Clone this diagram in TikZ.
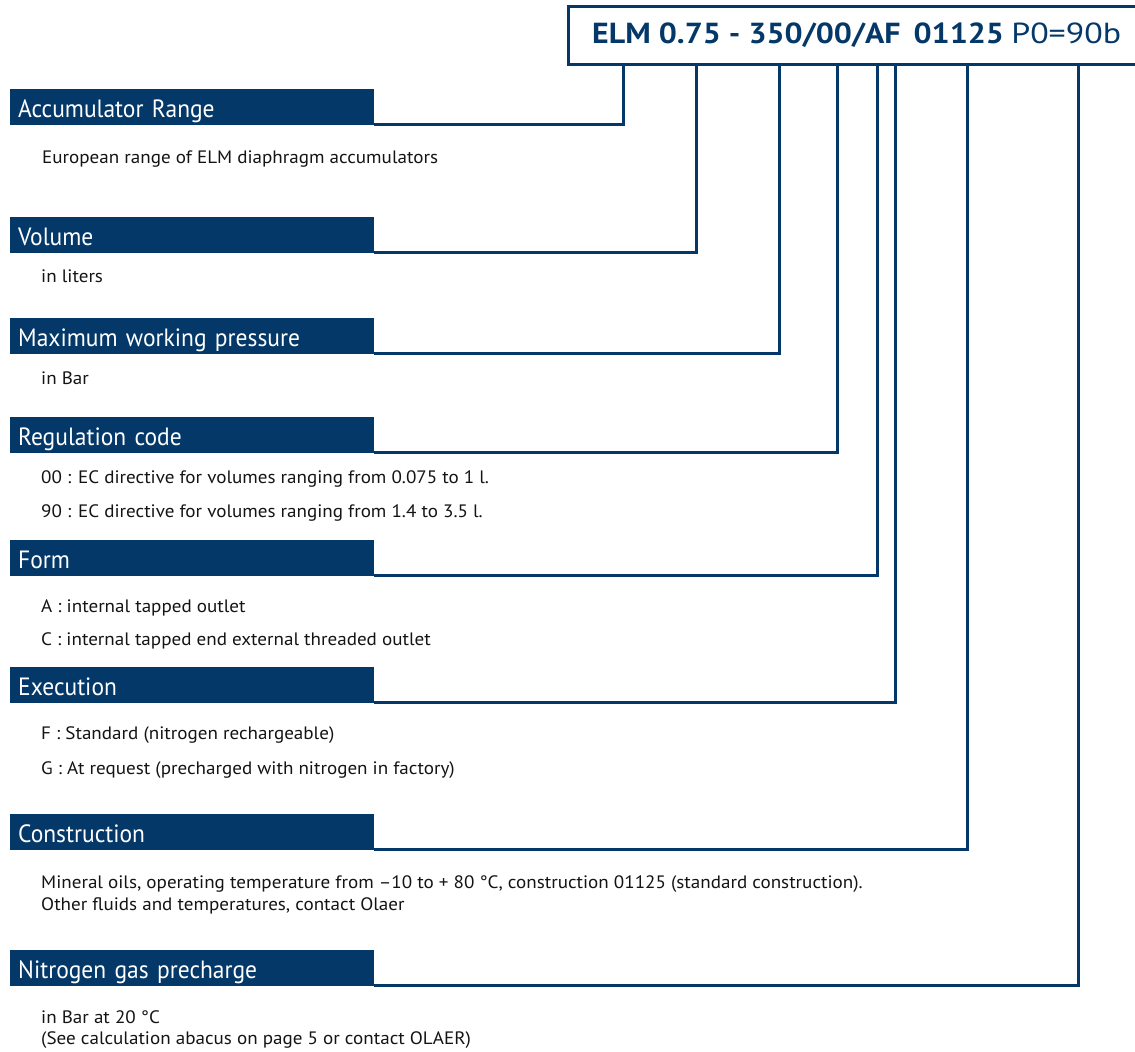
\documentclass[tikz,border=0pt]{standalone}
\usepackage{fontspec}
\setmainfont{PT Sans}
\newfontfamily\bodyf[FakeStretch=1.06]{PT Sans}
\newfontfamily\hdrf[FakeStretch=0.94]{PT Sans}
\newfontfamily\titlef[FakeStretch=1.1]{PT Sans}
\newfontfamily\titlereg[FakeStretch=1.17]{PT Sans}
\usetikzlibrary{calc}
\definecolor{olblue}{RGB}{4,56,104}
\tikzset{
  hdr/.style={fill=olblue, minimum height=36pt, minimum width=364pt, text width=348pt,
    align=left, inner xsep=8pt, inner ysep=0pt, anchor=north west, text=white,
    text height=20pt, text depth=0pt, font=\hdrf\fontsize{25}{25}\selectfont},
  body/.style={anchor=base west, inner sep=0pt, text=black!92, align=left,
    font=\bodyf\fontsize{18}{22}\selectfont},
  conn/.style={draw=olblue, line width=3pt},
}
\begin{document}
\begin{tikzpicture}[x=1pt,y=-1pt]
\useasboundingbox (0,0) rectangle (1135,1052);
% title box
\node[draw=olblue, line width=3pt, minimum width=570pt, minimum height=58pt, anchor=north west, inner sep=0pt] (title) at (567,5) {};
\node[anchor=base west, inner sep=0pt, text=olblue, font=\fontsize{29}{29}\selectfont] (code) at (592,43)
  {\titlef\bfseries ELM 0.75 - 350/00/AF\hspace{0.45em}01125\hspace{0.25em}\titlereg\mdseries P0=90b};
% header bars
\node[hdr] (acc)  at (10,89)  {Accumulator Range};
\node[hdr] (vol)  at (10,217) {Volume};
\node[hdr] (mwp)  at (10,318) {Maximum working pressure};
\node[hdr] (reg)  at (10,417) {Regulation code};
\node[hdr] (form) at (10,540) {Form};
\node[hdr] (exe)  at (10,667) {Execution};
\node[hdr] (cons) at (10,814) {Construction};
\node[hdr] (nit)  at (10,950) {Nitrogen gas precharge};
% body texts
\node[body] (t1) at (42,163) {European range of ELM diaphragm accumulators};
\node[body] (t2) at (41,282) {in liters};
\node[body] (t3) at (41,384) {in Bar};
\node[body] (t4) at (41,483) {00 : EC directive for volumes ranging from 0.075 to 1 l.};
\node[body] (t5) at (41,517) {90 : EC directive for volumes ranging from 1.4 to 3.5 l.};
\node[body] (t6) at (41,612) {A : internal tapped outlet};
\node[body] (t7) at (41,645) {C : internal tapped end external threaded outlet};
\node[body] (t8) at (41,739) {F : Standard (nitrogen rechargeable)};
\node[body] (t9) at (41,774) {G : At request (precharged with nitrogen in factory)};
\node[body] (t10) at (41,888) {Mineral oils, operating temperature from –10 to + 80 °C, construction 01125 (standard construction).};
\node[body] (t11) at (41,910) {Other fluids and temperatures, contact Olaer};
\node[body] (t12) at (41,1023) {in Bar at 20 °C};
\node[body] (t13) at (41,1044) {(See calculation abacus on page 5 or contact OLAER)};
% connectors
\draw[conn] ([yshift=1pt]acc.south east)  -| ([xshift=56pt]title.south west);
\draw[conn] ([yshift=1pt]vol.south east)  -| ([xshift=129pt]title.south west);
\draw[conn] ([yshift=1pt]mwp.south east)  -| ([xshift=212pt]title.south west);
\draw[conn] ([yshift=1pt]reg.south east)  -| ([xshift=270pt]title.south west);
\draw[conn] ([yshift=1pt]form.south east) -| ([xshift=310pt]title.south west);
\draw[conn] ([yshift=1pt]exe.south east)  -| ([xshift=328pt]title.south west);
\draw[conn] ([yshift=1pt]cons.south east) -| ([xshift=400pt]title.south west);
\draw[conn] ([yshift=1pt]nit.south east)  -| ([xshift=511pt]title.south west);
\end{tikzpicture}
\end{document}
